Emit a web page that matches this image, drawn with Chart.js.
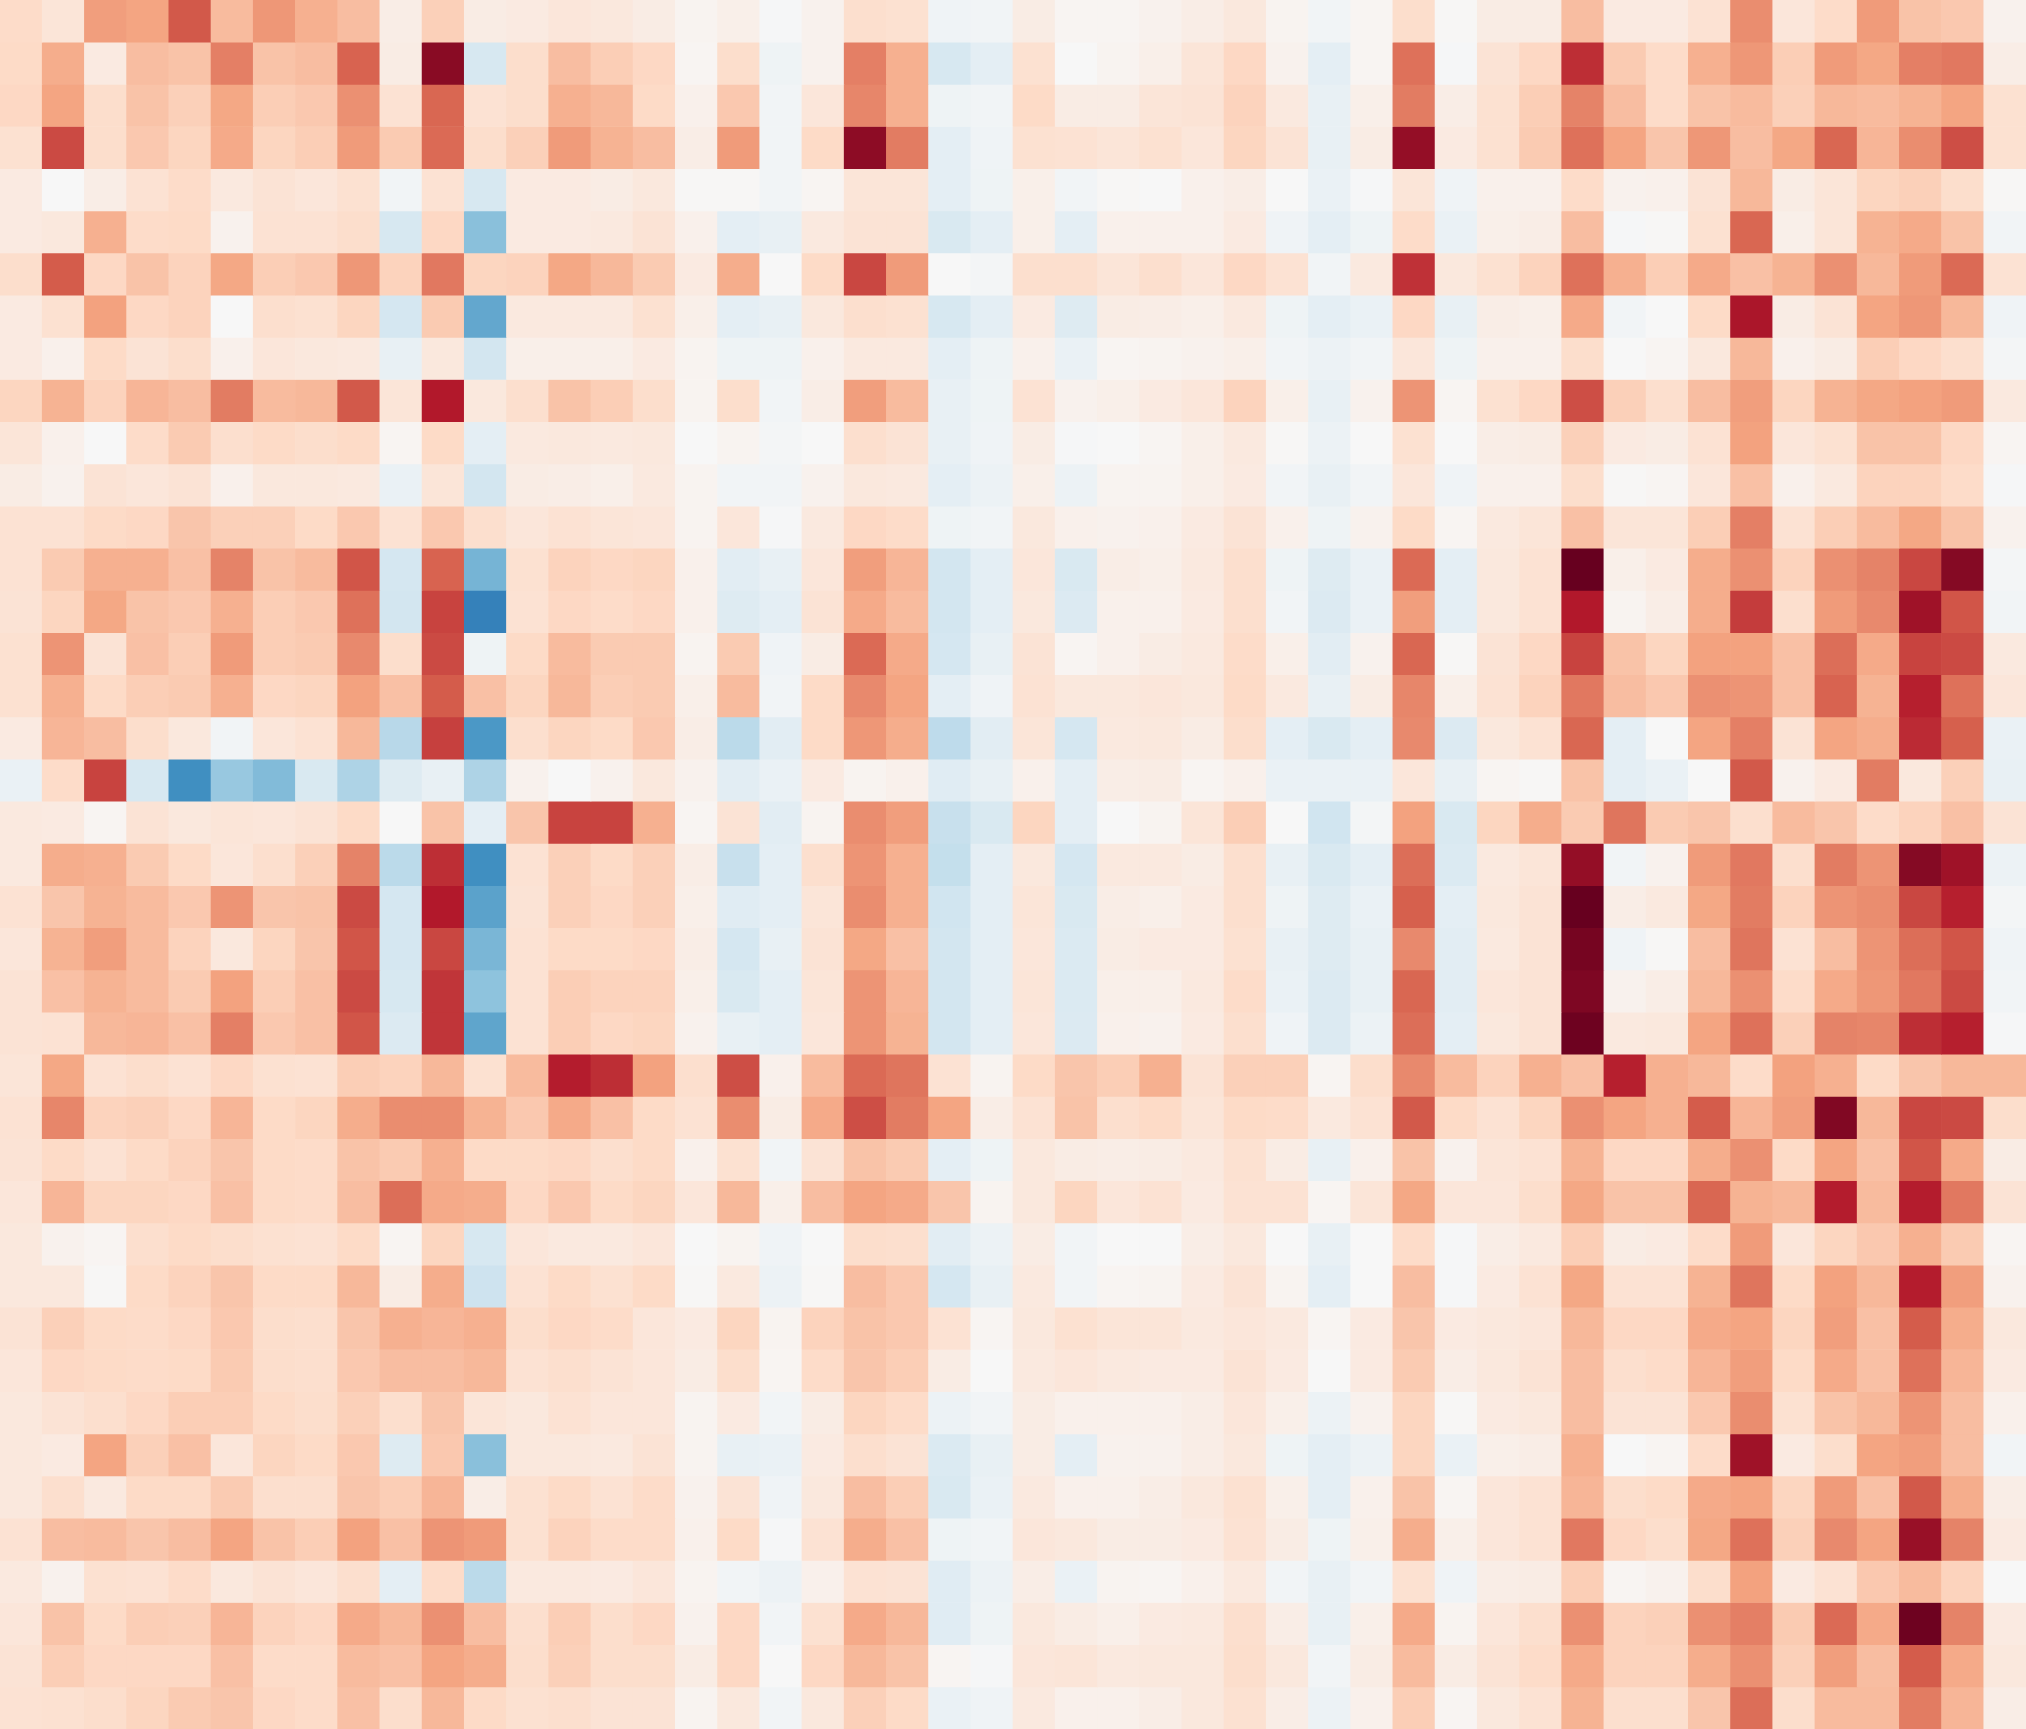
<!DOCTYPE html>
<html>
<head>
<meta charset="utf-8">
<style>html,body{margin:0;padding:0;background:#fff;overflow:hidden}canvas{display:block}</style>
<script src="https://cdn.jsdelivr.net/npm/chart.js@4"></script>
</head>
<body>
<canvas id="c" width="2026" height="1729"></canvas>
<script>
// Cell values in hundredths, -100..100. One list per row, top to bottom.
const row00=[19,13,42,40,62,32,44,36,31,7,24,8,9,12,11,8,3,6,-1,4,17,16,-4,-3,8,2,2,4,7,11,3,-3,2,18,1,8,8,31,9,9,15,47,12,19,43,29,27,4];
const row01=[20,37,9,31,29,51,29,31,59,8,91,-17,18,31,25,21,2,18,-5,4,51,36,-17,-10,16,0,3,6,13,21,4,-10,2,55,-1,14,21,74,26,19,36,44,25,43,39,51,53,7];
const row02=[21,40,18,29,24,39,25,27,46,15,58,15,18,36,33,20,5,27,-3,12,49,36,-5,-3,20,8,8,13,14,23,10,-8,6,52,7,16,25,50,31,19,29,32,24,33,32,35,40,16];
const row03=[16,66,18,27,22,38,22,25,43,26,57,18,24,43,35,31,7,43,-3,20,90,52,-10,-4,16,15,13,16,12,22,14,-8,8,88,9,16,26,55,40,28,44,31,39,58,34,47,65,16];
const row04=[9,0,7,15,19,10,14,12,16,-3,15,-17,9,9,8,11,1,1,-3,2,13,13,-10,-5,6,-3,1,0,5,7,0,-7,-1,13,-4,5,5,19,4,5,14,33,8,13,22,24,18,1];
const row05=[9,11,36,19,20,4,15,15,18,-17,21,-42,9,9,10,14,5,-10,-8,10,14,14,-16,-10,6,-10,5,5,5,9,-4,-10,-5,19,-7,6,7,31,-1,1,16,58,6,13,35,38,29,-3];
const row06=[18,61,21,29,23,39,25,27,44,23,53,22,23,39,33,26,9,37,0,20,67,43,0,-2,17,17,13,17,12,21,15,-3,10,73,11,16,23,55,36,25,38,30,35,46,33,43,57,15];
const row07=[9,16,41,21,23,0,17,16,22,-18,26,-52,10,10,10,16,6,-10,-8,11,17,16,-17,-10,9,-13,8,7,6,10,-5,-10,-7,21,-8,7,6,38,-3,0,20,82,8,14,40,44,33,-4];
const row08=[9,5,20,14,18,5,12,11,10,-8,11,-19,6,6,6,9,3,-5,-5,5,10,10,-10,-5,5,-7,2,3,4,6,-3,-6,-3,12,-5,5,5,18,0,2,11,33,5,8,25,21,17,-2];
const row09=[22,35,23,34,31,52,32,33,62,13,80,11,17,29,25,18,3,18,-3,7,42,32,-8,-5,15,4,6,9,12,23,6,-8,4,45,2,16,21,65,24,17,31,42,22,35,39,41,43,10];
const row10=[13,5,0,19,26,17,20,18,20,2,20,-10,10,11,10,11,0,3,-2,0,17,14,-8,-4,8,-1,0,2,6,10,1,-6,0,16,0,7,8,24,9,8,15,41,12,16,29,29,21,2];
const row11=[8,4,14,12,14,5,11,11,10,-7,13,-19,8,7,6,10,3,-3,-3,4,11,10,-10,-6,6,-6,3,3,6,9,-3,-8,-3,12,-4,5,5,18,1,2,12,30,5,10,23,23,19,-1];
const row12=[15,15,20,21,28,24,24,20,27,15,27,17,12,15,13,12,3,12,-1,10,21,19,-5,-3,11,5,4,5,9,14,5,-5,4,20,2,10,13,30,13,13,25,51,15,25,32,39,29,4];
const row13=[15,26,36,36,30,50,29,32,63,-18,59,-47,16,23,21,22,5,-11,-8,12,42,34,-19,-10,12,-16,7,6,10,17,-5,-13,-7,57,-10,11,15,100,6,9,37,46,23,46,50,67,92,-2];
const row14=[14,22,39,29,27,36,25,27,55,-19,68,-68,15,21,19,21,5,-13,-10,14,38,32,-19,-10,11,-14,5,5,9,17,-3,-14,-7,42,-10,11,15,80,3,7,37,70,17,43,48,85,63,-3];
const row15=[16,45,14,30,25,43,25,26,48,18,66,-5,20,32,26,26,3,26,-4,8,57,38,-18,-8,14,2,5,8,10,19,6,-11,4,58,1,14,21,68,29,22,41,41,30,56,38,68,66,10];
const row16=[16,36,20,25,26,36,21,22,41,30,61,30,22,33,25,26,6,32,-3,20,48,40,-10,-4,15,11,11,12,11,20,10,-8,8,49,6,15,23,53,31,27,46,45,30,59,35,78,55,12];
const row17=[9,34,31,18,11,-3,12,15,33,-28,69,-58,17,22,20,27,7,-27,-11,20,44,37,-26,-11,13,-18,10,11,8,18,-10,-16,-10,48,-14,11,15,58,-10,0,40,51,14,40,37,75,60,-7];
const row18=[-7,19,68,-17,-62,-38,-44,-16,-31,-13,-8,-31,4,0,4,11,4,-11,-7,9,3,5,-12,-8,5,-10,7,8,2,5,-7,-7,-7,12,-8,2,1,29,-10,-7,0,62,4,9,52,11,24,-8];
const row19=[10,9,2,14,11,13,12,14,20,0,29,-10,28,68,68,36,2,14,-11,3,47,42,-23,-16,22,-10,0,3,13,25,0,-20,-2,41,-16,22,37,26,54,26,28,17,32,28,19,23,30,14];
const row20=[10,37,36,26,20,12,17,24,50,-27,74,-62,15,24,20,24,7,-23,-10,17,45,36,-24,-10,11,-18,10,10,8,17,-8,-16,-10,56,-15,10,13,88,-3,4,43,53,17,52,45,92,85,-6];
const row21=[15,28,35,32,27,45,28,29,66,-18,80,-54,14,24,21,24,6,-12,-10,13,47,36,-20,-10,13,-16,7,6,9,17,-5,-13,-7,60,-10,11,14,100,7,10,39,52,23,45,47,67,78,-2];
const row22=[12,35,42,32,23,11,22,28,63,-18,67,-46,15,20,20,21,7,-18,-8,14,39,30,-19,-10,12,-15,8,9,9,16,-8,-13,-8,48,-11,10,14,96,-4,1,31,54,15,31,45,56,63,-4];
const row23=[14,30,35,32,26,41,25,30,66,-17,72,-41,15,25,23,23,6,-16,-10,13,45,34,-19,-10,13,-15,6,6,10,19,-7,-14,-8,58,-11,12,14,94,4,7,33,46,19,38,44,53,66,-3];
const row24=[14,15,33,34,30,51,27,30,63,-14,72,-53,15,25,21,22,4,-8,-10,12,45,35,-19,-10,12,-14,5,4,9,17,-4,-14,-6,56,-10,11,14,98,10,11,40,55,24,50,49,74,78,-1];
const row25=[13,39,15,18,15,21,16,15,25,23,33,16,32,79,74,41,17,65,5,32,57,54,15,3,20,28,25,36,14,24,24,2,18,48,32,23,36,30,78,36,33,19,41,36,20,28,33,33];
const row26=[15,49,23,24,21,34,20,22,37,47,47,35,27,38,30,20,15,47,8,38,65,52,40,7,15,29,17,20,13,20,19,10,15,62,20,15,22,46,40,36,61,34,42,93,33,67,66,18];
const row27=[14,20,15,20,23,28,20,19,29,26,36,20,20,21,17,20,5,16,-3,14,29,26,-10,-5,11,8,7,8,10,16,8,-8,5,29,4,13,15,35,21,21,37,46,20,40,30,63,38,8];
const row28=[12,34,22,22,21,30,20,19,31,56,38,37,21,27,20,22,12,33,6,31,40,38,28,3,11,22,12,15,9,15,15,2,13,39,12,12,18,39,29,29,58,35,33,79,32,79,53,14];
const row29=[11,4,2,17,20,18,16,15,20,2,22,-17,12,10,10,12,0,3,-4,0,18,17,-11,-6,8,-3,0,0,7,11,0,-8,0,19,-1,7,10,25,8,9,19,43,12,22,27,36,26,2];
const row30=[11,11,1,20,23,28,20,20,33,8,37,-21,15,20,16,20,1,10,-6,1,31,27,-18,-8,10,-3,2,3,9,14,3,-10,0,31,-1,9,15,39,15,15,35,54,20,41,33,79,42,4];
const row31=[14,24,20,19,21,27,18,17,28,36,34,36,18,21,19,12,9,22,3,23,29,27,15,2,11,16,13,13,10,12,10,2,9,28,9,11,12,33,21,21,38,40,22,42,30,61,37,11];
const row32=[12,21,20,19,20,26,18,17,27,31,31,33,15,17,14,12,8,18,2,19,28,25,8,0,10,12,10,9,9,14,9,0,9,26,7,11,14,31,17,19,34,42,20,38,30,55,34,9];
const row33=[11,14,17,21,25,25,20,18,24,17,28,13,11,15,12,12,3,9,-3,8,22,19,-6,-3,8,5,5,5,7,12,6,-6,4,22,1,9,11,31,14,14,27,47,16,29,33,45,31,5];
const row34=[11,9,40,24,30,12,22,20,27,-13,27,-42,11,11,10,14,3,-8,-7,9,17,14,-15,-8,8,-10,4,4,7,11,-5,-10,-6,22,-7,6,7,36,0,2,19,85,9,18,40,42,31,-3];
const row35=[11,17,10,20,20,26,17,17,28,25,34,7,16,20,15,19,4,14,-4,11,31,25,-16,-7,10,5,5,7,11,16,6,-10,5,29,2,12,15,34,18,20,38,40,22,43,30,62,37,7];
const row36=[15,31,32,28,31,40,29,25,41,30,45,43,16,23,19,19,5,20,-1,15,37,30,-5,-3,12,11,8,8,9,15,8,-5,6,37,6,12,15,53,21,18,39,55,24,48,40,87,50,9];
const row37=[10,4,16,15,19,11,14,12,17,-10,19,-27,10,10,9,12,3,-3,-6,5,15,14,-12,-6,7,-7,3,2,5,10,-3,-8,-3,16,-4,7,8,25,2,4,18,41,9,15,27,32,23,0];
const row38=[12,29,20,25,24,34,23,21,38,33,46,31,17,25,18,21,4,21,-3,16,38,33,-12,-5,11,8,6,9,10,17,7,-8,6,38,3,12,17,46,23,24,46,51,26,57,38,98,50,9];
const row39=[14,25,21,21,21,30,19,19,32,30,40,37,18,24,18,18,8,21,0,21,33,29,2,-1,12,13,10,11,11,18,11,-3,8,32,8,14,19,38,23,23,37,46,24,42,31,61,38,11];
const row40=[15,16,18,22,26,28,21,19,30,18,33,20,16,17,14,14,3,11,-3,11,24,20,-7,-4,10,5,5,7,11,16,7,-6,5,25,2,11,15,35,17,17,28,56,18,32,32,52,34,7];

const valueRows=[row00,row01,row02,row03,row04,row05,row06,row07,row08,row09,row10,row11,row12,row13,row14,row15,row16,row17,row18,row19,row20,row21,row22,row23,row24,row25,row26,row27,row28,row29,row30,row31,row32,row33,row34,row35,row36,row37,row38,row39,row40];
const columnLabels=row00.map((_,i)=>String(i+1));
const rowLabels=valueRows.map((_,i)=>String(i+1));

// RdBu reversed, from -100 to 100
const colorStops=[[5,48,97],[33,102,172],[67,147,195],[146,197,222],[209,229,240],[247,247,247],[253,219,199],[244,165,130],[214,96,77],[178,24,43],[103,0,31]];
function cellColor(v){
  const t=(Math.max(-100,Math.min(100,v))+100)/20;
  const i=Math.min(9,Math.floor(t)),f=t-i,a=colorStops[i],b=colorStops[i+1];
  return 'rgb('+a.map((x,k)=>Math.round(x+(b[k]-x)*f)).join(',')+')';
}

new Chart(document.getElementById('c'),{
  type:'bar',
  data:{
    labels:columnLabels,
    datasets:valueRows.map((row,r)=>({
      label:rowLabels[r],
      data:row.map(()=>1),
      backgroundColor:row.map(cellColor),
      borderWidth:0,
      barPercentage:1,
      categoryPercentage:1,
      stack:'grid'
    }))
  },
  options:{
    responsive:false,
    animation:false,
    layout:{padding:0},
    plugins:{legend:{display:false},tooltip:{enabled:false},title:{display:false}},
    scales:{
      x:{display:false,stacked:true},
      y:{display:false,stacked:true,reverse:true,min:0,max:valueRows.length}
    }
  }
});
</script>
</body>
</html>
